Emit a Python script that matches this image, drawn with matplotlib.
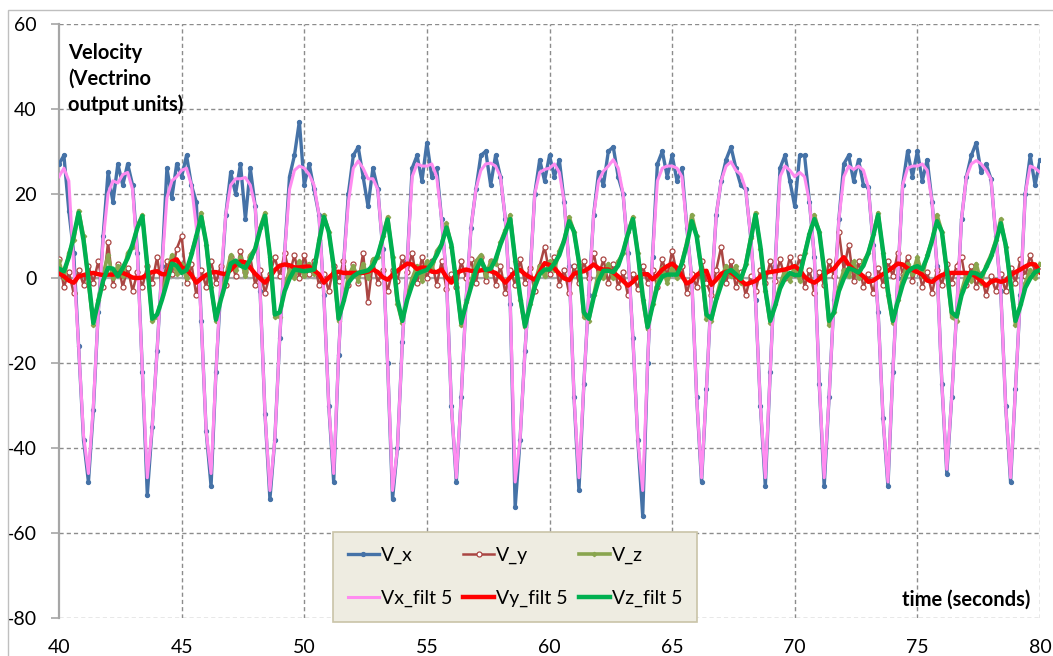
import numpy as np
import matplotlib
matplotlib.use("Agg")
import matplotlib.pyplot as plt
from matplotlib.patches import Rectangle

plt.rcParams['font.family'] = ['Lato', 'DejaVu Sans']
plt.rcParams['axes.unicode_minus'] = False

# time axis: one sample every 0.2 s from 40 s to 80 s
time_s = np.linspace(40, 80, 201)

# raw x velocity (V_x)
vx = [27, 29, 16, 6, -16, -38, -48, -31, -8, 10,
      25, 18, 27, 22, 27, 22, 6, -22, -51, -35,
      -17, 3, 26, 19, 27, 24, 29, 22, 18, -10,
      -36, -49, -22, -2, 15, 25, 20, 27, 14, 26,
      17, -3, -32, -52, -38, -14, 6, 24, 29, 37,
      22, 27, 21, 15, -4, -30, -48, -18, 3, 20,
      29, 31, 24, 17, 26, 21, 7, -20, -52, -40,
      -15, 4, 26, 29, 23, 32, 24, 26, 14, 0,
      -30, -48, -28, -5, 12, 21, 29, 30, 22, 29,
      24, 14, -6, -54, -38, -17, 0, 20, 28, 23,
      29, 24, 28, 18, 3, -28, -50, -25, -4, 15,
      25, 22, 30, 31, 24, 20, 6, -14, -38, -56,
      -20, 5, 27, 30, 24, 29, 23, 26, 12, 0,
      -28, -48, -26, -3, 15, 23, 28, 31, 26, 22,
      21, 10, -5, -30, -49, -22, 3, 26, 29, 23,
      17, 29, 29, 18, 5, -25, -49, -28, -5, 14,
      27, 29, 23, 28, 22, 21.5, 8, -8, -33, -49,
      -22, 0, 22, 30, 24, 30, 23, 28, 18, 3,
      -25, -46, -28, -8, 14, 24, 29, 32, 25, 27,
      23.5, 10, -3, -30, -48, -26, -4, 20, 29, 22,
      28]

# raw y velocity (V_y)
vy = [4.5, -2, 1.5, -3.5, 2, -1.5, 3, -1, 4, -2,
      8.5, -1.5, 3.5, -2, 2.5, -3, 1.5, -2, 3, -1,
      5, -2.5, 4, 1, 7, 10, -1, 3.5, -4, 2,
      -2, 4, -1, 3, -1.5, 5, 0.5, 6.5, 1.5, 5,
      -1.5, 2, -3.5, 1, 5, 0.5, 6, 1, 5.5, 0,
      5.5, 1, 4, -1.5, 1, -3, 3, -0.5, 4, -1.5,
      3.5, -1, 6, -5.5, 4, -1, 2, -3, 2, -0.5,
      5, 1.5, 6, -1, 5, 0, 4, -1.5, 4, -2.5,
      1, -2, 4, 0, 4.5, -1, 5, -0.5, 4, -1.5,
      3, -3.5, 2, -1.5, 4.5, -1, 2.5, -3, 3, 7.5,
      1, 5, -1.5, 2, -3.5, 3, -1, 4, 0, 6,
      0.5, 4.5, -1, 3.5, -2, 1.5, -4, 1, -2.5, 3,
      -1, 2, -2, 4.5, 0.5, 6.5, 1, 3, -3.5, 1,
      -2, 4, -1, -4, 2, 7.5, -1, 4, -2, 1.5,
      -4, 0.5, -3, 2, -1, 4, -0.5, 4.5, 0, 5,
      1, 5, -2, 2, -3.5, 1.5, -1.5, 4, 0.5, 11,
      2, 8, -0.5, 4, -2, 1, -3.5, 2.5, -1.5, 4,
      0.5, 6, 1, 5, -0.5, 3.5, -2, 1.5, -3.5, 2,
      -1.5, 3.5, -1, 3, 5, -1.5, 3, -2, 1, -4,
      0.5, -3, 1, -3, 2.5, -1, 4.5, 0.5, 5.5, 1.5,
      3]

# raw z velocity (V_z)
vz = [4, 0, 6, 9, 16, 10, -1, -11, -5, 1,
      5.5, 0, 3, 0.5, 6, 7.5, 12.5, 15, 3, -10,
      -9, -4, 1, 5.5, 1, 3.5, 0, 6, 10, 15.5,
      8, -2, -10, -4, 0.5, 5.5, 2, 5, 0.5, 5.5,
      7, 12, 15.5, 5, -9, -9, -2, 2, 0, 4,
      0.5, 3.5, 1, 9, 15, 11, 2, -10, -5, 0.5,
      3, -0.5, 3.5, 0, 4.5, 5, 10, 14.5, 5, -6,
      -10.5, -4, 0, 3, -0.5, 4, 2, 6.5, 8, 13,
      7.5, -1, -11, -5.5, -1, 4, 5.5, 0.5, 4, 3.5,
      8.5, 11.5, 15, 4, -5, -11.5, -6, -1, 3, 0.5,
      4, 2, 6.5, 9, 14.5, 11, 3.5, -9, -10, -4,
      1.5, 0, 3.5, 0, 4, 6, 11, 14.5, 6, -5,
      -12, -6, -1, 2.5, -1, 2.5, 0, 4, 8.5, 15,
      10, 1.5, -9.5, -10, -4.5, 0, 3, 0.5, 3, -1,
      3.5, 9.5, 15.5, 7, -3, -10.5, -6, -1.5, 2, -0.5,
      3, -0.5, 6, 10.5, 15, 11, 1.5, -11, -8, -2,
      2, 0.5, 4, 0, 4, 6, 10.5, 15.5, 6, -4,
      -10.5, -5, 0, 3.5, 1, 5, 0.5, 5.5, 9, 15,
      11, 1.5, -9, -10, -3, 1, -0.5, 3.5, -1, 3,
      5.5, 9, 14, 7.5, -1.5, -11, -6, -1, 2, 0,
      3.5]

# filtered series (5-point)
vx_filt = [24, 26, 23, 3, -16, -37, -46, -30, -8, 9,
           20, 23, 22.5, 24.5, 25, 21, 5, -22, -47, -35,
           -17, 3, 19, 23, 24, 25.5, 26, 22, 12, -10,
           -36, -46, -22, 0, 15, 22, 23.5, 23.5, 23.8, 22,
           17, -3, -32, -50, -38, -14, 6, 21, 25.5, 26.5,
           26, 24.5, 22, 15, -4, -30, -46, -18, 3, 18,
           26, 27.7, 26, 23.5, 23.5, 21, 7, -20, -50, -40,
           -15, 4, 24, 27, 26.5, 26.5, 27, 24, 14, 0,
           -30, -47, -28, -5, 12, 21, 25.5, 27, 27.2, 26.5,
           24, 14, -6, -48, -38, -17, 0, 20, 25, 25.7,
           26, 27, 25, 18, 3, -28, -47, -25, -4, 15,
           23, 25.3, 26.5, 28, 26, 20, 6, -14, -38, -50,
           -20, 5, 23, 26, 26.5, 26.5, 26, 24, 12, 0,
           -28, -47, -26, -3, 15, 23, 26.5, 27.5, 25.5, 24.5,
           21, 10, -5, -30, -47, -22, 3, 24, 26.5, 25.5,
           24, 25, 24, 18, 5, -25, -47, -28, -5, 14,
           24, 26.5, 25.7, 26.5, 25.5, 21.5, 8, -8, -33, -48,
           -22, 0, 22, 26, 26.5, 26.5, 27, 25.5, 18, 3,
           -25, -45, -28, -8, 14, 24, 27, 27.8, 27, 25.5,
           23.5, 10, -3, -30, -47, -26, -4, 20, 26.5, 26,
           25]

vy_filt = [1.2, 0.5, -0.5, -1, 0.5, 0.8, 1.1, 1.3, 1, 0.8,
           0.9, 0.9, 1.2, 1.3, 0.8, 0.2, 0.1, 0.2, 1, 1.5,
           1.7, 1, 1, 4, 4.5, 2.6, 2.1, 0.8, -1, 0,
           0.8, 1.4, 1.5, 1.2, 1, 2, 3.2, 4, 3.8, 2.5,
           1.1, 0, -1, 0.3, 2, 3, 3.3, 3.1, 2.6, 2.6,
           2.8, 2.8, 1.9, 1, -1, 0.2, 1.2, 1.6, 1.3, 1.3,
           1.3, 1.3, 1.3, 1.6, 2.1, 1.5, 0.3, -0.3, 0.8, 1.8,
           2.7, 3.5, 3.3, 2.2, 2.6, 2.5, 1.6, 1.5, 2.1, 0.3,
           -1, 1.3, 1.8, 2.1, 1.8, 1.7, 1.9, 2.1, 1.7, 1.3,
           0.3, -1, 0.3, 1.5, 2, 1, 0.3, -0.3, 1.5, 3.6,
           3.2, 2.4, 1.1, 0, -0.4, 1.1, 1.5, 1.7, 2.4, 3.3,
           2.4, 2.1, 2.1, 1.4, 0.5, -0.6, -1.7, -0.8, 0.3, 1,
           1, -0.2, 0.8, 2.1, 2.9, 3.5, 2.5, 0.6, -1.2, -0.6,
           0.8, 1.6, 1.8, -1.5, -0.3, 1.1, 1.6, 1.4, 0.5, -0.5,
           -1.4, -1, -0.6, 0.4, 1.3, 1.5, 1.7, 1.9, 2.1, 2.5,
           2.9, 2, 0.4, -0.5, -1, -0.2, 1.1, 1.7, 2.3, 3.8,
           5, 3.2, 2.1, 1.4, 0.5, -0.8, -0.5, 0.3, 1, 1.8,
           2.6, 3.5, 3.3, 2.4, 2, 1.5, 0.9, -0.5, -0.8, 0.1,
           0.8, 1.2, 1.3, 1.3, 1.3, 1.3, 1.1, 0.4, -0.6, -1.7,
           -0.8, -0.4, -0.8, -0.5, 0.8, 1.5, 2.1, 2.8, 3.4, 3.3,
           1.5]

vz_filt = [2.3, 1.7, 5, 10, 15.5, 9, 0, -10.5, -5.5, -0.5,
           2.5, 2.3, 0.5, 2.5, 4.8, 8, 12, 14.7, 3, -9.5,
           -8.5, -5, -1, 3.5, 3, 1.3, 2, 5.5, 10, 14.5,
           8.5, -2, -9.7, -5, -1, 3.5, 4.2, 3, 2.5, 4.5,
           7, 11.5, 14.8, 5.5, -8.5, -8, -3, 0, 2.1, 1.9,
           1.7, 1.9, 2.1, 8.5, 14.5, 11, 3, -9.5, -5.5, -1,
           0.5, 1.3, 1.6, 1.9, 3, 5.5, 9.5, 13.9, 5.5, -5,
           -10, -5, -1.5, 1.1, 1.6, 2, 3.5, 5.5, 8, 12,
           8, -1, -10.5, -6, -2, 2, 4.3, 2, 2.3, 4.5,
           8, 11, 14, 4.5, -4, -11.3, -6.5, -2, 1, 2.1,
           2.1, 3.5, 5.5, 9, 13.5, 11, 4, -8, -9.5, -4.5,
           -0.5, 1.8, 1.8, 1.5, 3, 6.3, 10.5, 14, 6, -4,
           -11.5, -6.5, -1.8, 0.5, 0.9, 0.9, 0.9, 3.5, 8, 13.5,
           10, 2, -8.5, -9.5, -5, -1.5, 1.4, 2, 1, -0.1,
           3, 9, 15, 7.5, -2.5, -10, -6.5, -2.4, 0, 1.3,
           0.8, 0.8, 5.5, 10.5, 14, 11, 2, -10, -8, -3,
           0, 2.4, 2, 1.4, 3, 6, 10, 15, 6.5, -3,
           -10, -5.5, -1.5, 1.5, 2.5, 2.9, 2.2, 5, 9, 13.5,
           11, 2, -8, -9, -4, -1, 1.4, 1.2, 0.5, 2.5,
           5, 8.5, 13, 8, -1, -10, -6.5, -2.2, 0, 1.5,
           2]

yticks = [-80, -60, -40, -20, 0, 20, 40, 60]
xticks = [40, 45, 50, 55, 60, 65, 70, 75, 80]

fig = plt.figure(figsize=(10.53, 6.56), dpi=100, facecolor='white')
ax = fig.add_axes([59/1053, (656-617.7)/656, 981/1053, 593.7/656])

# chart area border (only top and left edges visible in the crop)
fig.patches.append(Rectangle((8/1053, -0.5), 2, (656-10)/656 + 0.5,
                             transform=fig.transFigure, fill=False,
                             edgecolor='#BFBFBF', lw=1))

grid_kw = dict(color='#8C8C8C', lw=1, ls=(0, (3, 2.2)), zorder=1)
for yv in yticks:
    ax.axhline(yv, **grid_kw)
for xv in xticks[1:]:
    ax.axvline(xv, **grid_kw)
ax.axhline(0, color='#A6A6A6', lw=1.6, zorder=1.5)

l_vx, = ax.plot(time_s, vx, color='#4572A7', lw=2.4, marker='o', ms=2.8,
                mec='#4572A7', zorder=2, label='V_x')
l_vy, = ax.plot(time_s, vy, color='#AA4643', lw=1.8, marker='o', ms=3.6,
                mfc='white', mec='#AA4643', mew=0.9, zorder=3, label='V_y')
l_vz, = ax.plot(time_s, vz, color='#89A54E', lw=2.6, marker='D', ms=2.2,
                mec='#89A54E', zorder=4, label='V_z')
l_vxf, = ax.plot(time_s, vx_filt, color='#FF8CF0', lw=2.2, zorder=5,
                 label='Vx_filt 5')
l_vyf, = ax.plot(time_s, vy_filt, color='#FF0000', lw=3.2, zorder=6,
                 label='Vy_filt 5')
l_vzf, = ax.plot(time_s, vz_filt, color='#00B050', lw=3.2, zorder=7,
                 label='Vz_filt 5')

ax.set_xlim(40, 80)
ax.set_ylim(-80, 60)
ax.set_xticks(xticks)
ax.set_yticks(yticks)
ax.tick_params(axis='y', direction='out', length=6, width=1.2,
               color='#A6A6A6', pad=10, labelsize=14)
ax.tick_params(axis='x', length=0, pad=15, labelsize=14)
for side in ['top', 'right', 'bottom']:
    ax.spines[side].set_visible(False)
ax.spines['left'].set_color('#A6A6A6')
ax.spines['left'].set_linewidth(1.6)
ax.spines['left'].set_zorder(1.6)

ax.text(0.009, 0.968, 'Velocity\n(Vectrino\noutput units)', transform=ax.transAxes,
        ha='left', va='top', fontsize=14.5, fontweight='bold', linespacing=1.35)
ax.text(0.99, 0.03, 'time (seconds)', transform=ax.transAxes,
        ha='right', va='center', fontsize=14.5, fontweight='bold')

handles = [l_vx, l_vxf, l_vy, l_vyf, l_vz, l_vzf]
leg = fig.legend(handles, [h.get_label() for h in handles], ncol=3,
                 loc='lower left',
                 bbox_to_anchor=(333/1053, (656-622)/656, 364/1053, 102/656),
                 mode='expand', borderaxespad=0, fontsize=14, numpoints=1,
                 handlelength=1.6, handletextpad=0.1, labelspacing=1.35,
                 borderpad=0.75, fancybox=False, framealpha=1)
leg.get_frame().set_facecolor('#EEECE1')
leg.get_frame().set_edgecolor('#C9C4A8')
leg.get_frame().set_linewidth(1.2)

fig.savefig('out.png', dpi=100)
